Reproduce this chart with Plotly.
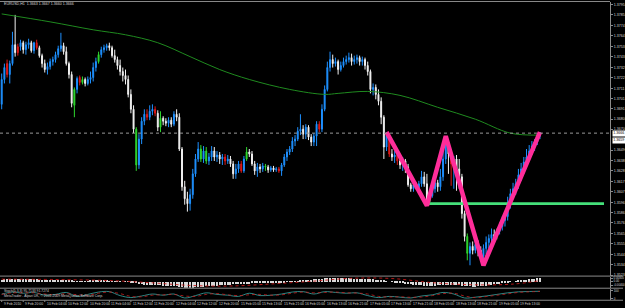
import plotly.graph_objects as go

# ---------------- data (EURUSD, H1) ----------------
symbol = "EURUSD,H1"
open_ = [1.3695,1.3720,1.3736,1.3725,1.3736,1.3755,1.3747,1.3753,1.3757,1.3750,
         1.3755,1.3757,1.3749,1.3757,1.3752,1.3744,1.3736,1.3730,1.3733,1.3738,
         1.3740,1.3745,1.3751,1.3754,1.3748,1.3736,1.3725,1.3694,1.3710,1.3722,
         1.3717,1.3720,1.3716,1.3720,1.3722,1.3732,1.3738,1.3745,1.3750,1.3752,
         1.3754,1.3752,1.3744,1.3740,1.3734,1.3728,1.3724,1.3720,1.3705,1.3690,
         1.3670,1.3634,1.3660,1.3678,1.3685,1.3682,1.3688,1.3690,1.3686,1.3672,
         1.3681,1.3678,1.3676,1.3679,1.3675,1.3685,1.3682,1.3650,1.3612,1.3600,
         1.3595,1.3604,1.3625,1.3640,1.3650,1.3640,1.3648,1.3638,1.3642,1.3648,
         1.3642,1.3644,1.3640,1.3642,1.3638,1.3640,1.3635,1.3625,1.3630,1.3635,
         1.3628,1.3640,1.3647,1.3645,1.3635,1.3628,1.3632,1.3630,1.3633,1.3632,
         1.3629,1.3631,1.3629,1.3630,1.3628,1.3634,1.3642,1.3647,1.3650,1.3658,
         1.3660,1.3668,1.3670,1.3665,1.3672,1.3662,1.3657,1.3663,1.3675,1.3670,
         1.3690,1.3710,1.3732,1.3740,1.3736,1.3738,1.3730,1.3734,1.3738,1.3740,
         1.3742,1.3738,1.3740,1.3742,1.3738,1.3740,1.3734,1.3728,1.3710,1.3712,
         1.3705,1.3698,1.3682,1.3652,1.3664,1.3645,1.3642,1.3644,1.3638,1.3634,
         1.3638,1.3632,1.3614,1.3610,1.3614,1.3611,1.3615,1.3622,1.3615,1.3597,
         1.3603,1.3610,1.3616,1.3612,1.3622,1.3640,1.3655,1.3645,1.3635,1.3640,
         1.3630,1.3622,1.3585,1.3562,1.3545,1.3552,1.3548,1.3554,1.3548,1.3542,
         1.3550,1.3556,1.3560,1.3564,1.3562,1.3567,1.3572,1.3578,1.3582,1.3595,
         1.3605,1.3610,1.3615,1.3624,1.3630,1.3637,1.3642,1.3648,1.3653,1.3657,
         1.3663]
close_ = [1.3720,1.3732,1.3725,1.3736,1.3755,1.3747,1.3753,1.3757,1.3750,1.3755,
          1.3757,1.3749,1.3757,1.3752,1.3744,1.3736,1.3730,1.3733,1.3738,1.3740,
          1.3745,1.3751,1.3754,1.3748,1.3736,1.3725,1.3696,1.3710,1.3721,1.3717,
          1.3720,1.3716,1.3720,1.3722,1.3732,1.3738,1.3745,1.3750,1.3752,1.3754,
          1.3752,1.3744,1.3740,1.3734,1.3728,1.3724,1.3720,1.3705,1.3690,1.3670,
          1.3634,1.3660,1.3678,1.3685,1.3682,1.3688,1.3690,1.3686,1.3672,1.3681,
          1.3678,1.3676,1.3679,1.3675,1.3685,1.3682,1.3650,1.3612,1.3600,1.3595,
          1.3604,1.3625,1.3640,1.3650,1.3640,1.3648,1.3638,1.3642,1.3648,1.3642,
          1.3644,1.3640,1.3642,1.3638,1.3640,1.3635,1.3625,1.3630,1.3635,1.3628,
          1.3640,1.3647,1.3645,1.3635,1.3628,1.3632,1.3630,1.3633,1.3632,1.3629,
          1.3631,1.3629,1.3630,1.3628,1.3634,1.3642,1.3647,1.3650,1.3658,1.3660,
          1.3668,1.3670,1.3665,1.3672,1.3662,1.3657,1.3663,1.3675,1.3670,1.3690,
          1.3710,1.3732,1.3740,1.3736,1.3738,1.3730,1.3734,1.3738,1.3740,1.3742,
          1.3738,1.3740,1.3742,1.3738,1.3740,1.3734,1.3728,1.3710,1.3712,1.3705,
          1.3698,1.3682,1.3652,1.3664,1.3645,1.3642,1.3644,1.3638,1.3634,1.3638,
          1.3632,1.3614,1.3610,1.3614,1.3611,1.3615,1.3622,1.3615,1.3597,1.3603,
          1.3610,1.3616,1.3612,1.3622,1.3640,1.3655,1.3645,1.3635,1.3640,1.3630,
          1.3622,1.3585,1.3562,1.3545,1.3552,1.3548,1.3554,1.3548,1.3542,1.3550,
          1.3556,1.3560,1.3564,1.3562,1.3567,1.3572,1.3578,1.3582,1.3595,1.3605,
          1.3610,1.3615,1.3624,1.3630,1.3637,1.3642,1.3648,1.3653,1.3657,1.3663,
          1.3666]
high_ = [1.3726,1.3736,1.3740,1.3739,1.3768,1.3785,1.3756,1.3760,1.3759,1.3758,
         1.3761,1.3759,1.3758,1.3760,1.3754,1.3746,1.3740,1.3737,1.3741,1.3743,
         1.3748,1.3754,1.3767,1.3757,1.3753,1.3738,1.3728,1.3712,1.3723,1.3724,
         1.3723,1.3722,1.3723,1.3728,1.3737,1.3742,1.3748,1.3753,1.3755,1.3756,
         1.3757,1.3754,1.3750,1.3743,1.3740,1.3732,1.3730,1.3724,1.3710,1.3694,
         1.3672,1.3665,1.3682,1.3690,1.3690,1.3694,1.3695,1.3693,1.3689,1.3688,
         1.3683,1.3681,1.3682,1.3682,1.3688,1.3690,1.3686,1.3652,1.3618,1.3607,
         1.3610,1.3630,1.3645,1.3657,1.3654,1.3653,1.3652,1.3646,1.3653,1.3652,
         1.3648,1.3647,1.3645,1.3645,1.3644,1.3643,1.3638,1.3635,1.3638,1.3638,
         1.3643,1.3652,1.3650,1.3648,1.3638,1.3636,1.3635,1.3636,1.3635,1.3634,
         1.3633,1.3633,1.3632,1.3632,1.3636,1.3645,1.3650,1.3653,1.3662,1.3664,
         1.3672,1.3685,1.3674,1.3675,1.3674,1.3665,1.3666,1.3678,1.3678,1.3695,
         1.3714,1.3738,1.3748,1.3745,1.3742,1.3740,1.3738,1.3742,1.3744,1.3747,
         1.3746,1.3744,1.3745,1.3744,1.3743,1.3742,1.3738,1.3730,1.3716,1.3715,
         1.3710,1.3702,1.3684,1.3667,1.3666,1.3650,1.3648,1.3646,1.3642,1.3642,
         1.3640,1.3635,1.3616,1.3617,1.3617,1.3618,1.3628,1.3627,1.3625,1.3605,
         1.3613,1.3620,1.3619,1.3630,1.3648,1.3663,1.3660,1.3650,1.3643,1.3644,
         1.3640,1.3625,1.3588,1.3565,1.3556,1.3557,1.3557,1.3558,1.3552,1.3554,
         1.3562,1.3564,1.3570,1.3569,1.3570,1.3576,1.3582,1.3586,1.3602,1.3610,
         1.3616,1.3620,1.3630,1.3636,1.3642,1.3650,1.3654,1.3658,1.3660,1.3665,
         1.3667]
low_ = [1.3690,1.3716,1.3722,1.3716,1.3734,1.3743,1.3744,1.3749,1.3746,1.3745,
        1.3751,1.3747,1.3746,1.3750,1.3742,1.3732,1.3727,1.3725,1.3730,1.3734,
        1.3737,1.3742,1.3748,1.3745,1.3734,1.3721,1.3692,1.3682,1.3706,1.3714,
        1.3715,1.3713,1.3714,1.3716,1.3718,1.3728,1.3736,1.3742,1.3747,1.3749,
        1.3749,1.3742,1.3737,1.3730,1.3724,1.3718,1.3715,1.3702,1.3686,1.3666,
        1.3628,1.3630,1.3655,1.3674,1.3679,1.3679,1.3684,1.3683,1.3668,1.3667,
        1.3674,1.3673,1.3672,1.3672,1.3673,1.3678,1.3648,1.3608,1.3594,1.3587,
        1.3588,1.3600,1.3622,1.3637,1.3637,1.3636,1.3635,1.3634,1.3638,1.3638,
        1.3637,1.3635,1.3634,1.3634,1.3635,1.3632,1.3620,1.3620,1.3626,1.3626,
        1.3626,1.3638,1.3642,1.3633,1.3624,1.3622,1.3626,1.3627,1.3628,1.3626,
        1.3627,1.3627,1.3627,1.3626,1.3623,1.3632,1.3638,1.3644,1.3647,1.3653,
        1.3658,1.3664,1.3660,1.3660,1.3659,1.3653,1.3653,1.3653,1.3667,1.3667,
        1.3688,1.3708,1.3728,1.3732,1.3733,1.3725,1.3728,1.3732,1.3735,1.3737,
        1.3734,1.3735,1.3736,1.3734,1.3734,1.3730,1.3724,1.3706,1.3704,1.3700,
        1.3694,1.3675,1.3640,1.3648,1.3642,1.3638,1.3636,1.3634,1.3630,1.3628,
        1.3626,1.3612,1.3607,1.3607,1.3609,1.3609,1.3612,1.3612,1.3593,1.3594,
        1.3601,1.3606,1.3607,1.3608,1.3618,1.3635,1.3625,1.3613,1.3610,1.3608,
        1.3610,1.3580,1.3557,1.3538,1.3533,1.3544,1.3545,1.3542,1.3537,1.3533,
        1.3544,1.3550,1.3556,1.3558,1.3559,1.3564,1.3568,1.3572,1.3578,1.3590,
        1.3600,1.3604,1.3610,1.3618,1.3625,1.3633,1.3638,1.3644,1.3648,1.3654,
        1.3660]
green_marks = [27, 30, 36, 50, 59, 74, 76, 91, 98, 159, 173, 184]
red_marks = [2, 6, 13, 29, 54, 57, 83, 89, 103, 118, 144, 147, 154, 167]

ma_bars = [0, 18, 34, 46, 58, 70, 81, 92, 107, 120, 125, 136, 148, 162, 176, 189, 200]
ma_values = [1.3786, 1.3778, 1.3770, 1.3765, 1.3757, 1.3743, 1.3730, 1.3720, 1.3710,
             1.3705, 1.3706, 1.3708, 1.3704, 1.3692, 1.3680, 1.3666, 1.3664]

zigzag_bars = [143, 158, 165, 179, 200]
zigzag_prices = [1.3667, 1.3593, 1.3663, 1.3533, 1.3667]
support_bars = [158, 223.8]
support_price = 1.3595
alert_price = 1.3659

macd_hist = [0.0020,0.0022,0.0023,0.0025,0.0026,0.0026,0.0025,0.0025,0.0024,0.0024,
             0.0023,0.0023,0.0022,0.0021,0.0020,0.0019,0.0018,0.0017,0.0015,
             0.0013,0.0012,0.0011,0.0010,0.0010,0.0009,0.0008,0.0006,0.0005,0.0005,
             0.0004,0.0004,0.0005,0.0005,0.0006,0.0006,0.0006,0.0007,0.0007,0.0006,
             0.0006,0.0005,0.0004,0.0003,0.0002,0.0001,0.0000,-0.0002,-0.0004,-0.0007,
             -0.0010,-0.0015,-0.0022,-0.0028,-0.0032,-0.0035,-0.0036,-0.0037,-0.0037,-0.0038,
             -0.0038,-0.0039,-0.0040,-0.0041,-0.0042,-0.0044,-0.0048,-0.0052,-0.0056,-0.0059,
             -0.0060,-0.0060,-0.0059,-0.0057,-0.0055,
             -0.0052,-0.0050,-0.0048,-0.0046,-0.0044,-0.0042,-0.0040,-0.0038,-0.0036,-0.0034,
             -0.0032,-0.0030,-0.0029,-0.0028,-0.0026,-0.0024,-0.0022,-0.0021,-0.0020,-0.0019,
             -0.0018,-0.0017,-0.0016,-0.0015,-0.0014,-0.0013,-0.0012,-0.0011,-0.0010,-0.0009,
             -0.0007,-0.0005,-0.0003,-0.0001,0.0001,0.0003,0.0005,
             0.0008,0.0011,0.0014,0.0017,0.0020,0.0023,0.0026,0.0028,0.0030,0.0031,
             0.0032,0.0033,0.0034,0.0034,0.0034,0.0033,0.0033,0.0032,0.0032,0.0031,
             0.0030,0.0029,0.0028,0.0027,0.0026,0.0025,0.0023,0.0021,0.0018,0.0015,
             0.0012,0.0008,0.0004,0.0000,-0.0004,-0.0008,-0.0012,-0.0015,-0.0018,-0.0021,
             -0.0024,-0.0027,-0.0030,-0.0033,-0.0035,-0.0037,-0.0039,-0.0040,-0.0040,-0.0040,
             -0.0039,-0.0038,-0.0036,-0.0034,-0.0032,-0.0031,-0.0031,-0.0032,-0.0034,-0.0037,
             -0.0040,-0.0043,-0.0046,-0.0048,-0.0049,-0.0049,-0.0048,-0.0046,-0.0043,-0.0040,
             -0.0036,-0.0032,-0.0028,-0.0024,-0.0020,-0.0016,-0.0012,-0.0008,-0.0004,0.0000,
             0.0004,0.0008,
             0.0012,0.0016,0.0020,0.0023,0.0026,0.0029,0.0031,0.0033]
macd_signal_bars = [0, 20, 40, 55, 70, 85, 100, 115, 130, 145, 160, 175, 190, 200]
macd_signal = [0.0020, 0.0016, 0.0006, -0.0015, -0.0042, -0.0048, -0.0028, -0.0002,
               0.0028, 0.0026, -0.0015, -0.0036, -0.0029, 0.0005]
macd_ticks = [0.0030, 0.0, -0.0040]
macd_tick_text = ["0.00300", "0.00", "-0.00400"]

stoch_bars = list(range(0, 201, 4))
stoch_k = [60,85,70,80,45,55,80,30,55,85,90,40,15,35,60,45,60,10,40,75,55,45,30,70,40,
           45,60,85,90,60,90,80,70,75,40,15,30,20,10,35,50,80,60,10,20,35,55,75,88,92,95]
stoch_d = [55,75,75,75,60,50,65,50,45,70,85,65,30,25,45,50,55,35,30,55,65,50,40,50,55,
           45,50,70,85,75,80,85,75,72,60,30,22,25,18,22,40,65,70,35,15,28,45,62,80,88,92]
stoch_label = "Stoch(5,3,3) 95.7133 91.7274"
copyright_text = "MetaTrader - Alpari UK, © 2001-2009 MetaQuotes Software Corp."

time_ticks = [0, 8, 16, 24, 32, 40, 48, 56, 64, 72, 80, 88, 96, 104, 112, 120, 128,
              136, 144, 152, 160, 168, 176, 184, 192]
time_labels = ["9 Feb 2010", "9 Feb 20:00", "10 Feb 04:00", "10 Feb 12:00", "10 Feb 20:00",
               "11 Feb 04:00", "11 Feb 12:00", "11 Feb 20:00", "12 Feb 04:00", "12 Feb 12:00",
               "12 Feb 20:00", "15 Feb 05:00", "15 Feb 13:00", "15 Feb 21:00", "16 Feb 05:00",
               "16 Feb 13:00", "16 Feb 21:00", "17 Feb 05:00", "17 Feb 13:00", "17 Feb 21:00",
               "18 Feb 05:00", "18 Feb 13:00", "18 Feb 21:00", "19 Feb 05:00", "19 Feb 13:00"]
price_ticks = [1.3795, 1.3785, 1.3774, 1.3764, 1.3753, 1.3743, 1.3732, 1.3722, 1.3711,
               1.3701, 1.3691, 1.3680, 1.3670, 1.3649, 1.3638, 1.3628, 1.3617, 1.3607,
               1.3596, 1.3586, 1.3576, 1.3565, 1.3555, 1.3544, 1.3534, 1.3523]

# ---------------- layout helpers ----------------
W, H = 625, 308
def py(px):
    return 1 - px / H
XR = 612 / W
FONT = "Liberation Sans, Arial, sans-serif"
GRAY = "#8a8a8a"

fig = go.Figure()

# candles split by colour class
groups = {"blue": [], "white": [], "green": [], "red": []}
for i in range(len(close_)):
    if i in green_marks:
        groups["green"].append(i)
    elif i in red_marks:
        groups["red"].append(i)
    elif close_[i] >= open_[i]:
        groups["blue"].append(i)
    else:
        groups["white"].append(i)
gcolors = {"blue": "#1e90ff", "white": "#f2f2f2", "green": "#2fd82f", "red": "#e01818"}
for key in ["blue", "white", "green", "red"]:
    idx = groups[key]
    c = gcolors[key]
    fig.add_trace(go.Candlestick(
        x=idx, open=[open_[i] for i in idx], high=[high_[i] for i in idx],
        low=[low_[i] for i in idx], close=[close_[i] for i in idx],
        increasing=dict(line=dict(color=c, width=1), fillcolor=c),
        decreasing=dict(line=dict(color=c, width=1), fillcolor=c),
        xaxis="x", yaxis="y", showlegend=False, hoverinfo="skip"))

# moving average
fig.add_trace(go.Scatter(x=ma_bars, y=ma_values, mode="lines",
                         line=dict(color="#1f8a1f", width=1, shape="spline", smoothing=1.0),
                         xaxis="x", yaxis="y", hoverinfo="skip"))
# support line
fig.add_trace(go.Scatter(x=support_bars, y=[support_price] * len(support_bars), mode="lines",
                         line=dict(color="#45e07a", width=2.6),
                         xaxis="x", yaxis="y", hoverinfo="skip"))
# zigzag pattern
fig.add_trace(go.Scatter(x=zigzag_bars, y=zigzag_prices, mode="lines",
                         line=dict(color="#ff2d9a", width=4.5),
                         xaxis="x", yaxis="y", hoverinfo="skip"))

# MACD panel
fig.add_trace(go.Bar(x=list(range(len(macd_hist))), y=macd_hist, width=0.45,
                     marker=dict(color="#d8d8d8", line=dict(width=0)),
                     xaxis="x2", yaxis="y2", hoverinfo="skip"))
fig.add_trace(go.Scatter(x=macd_signal_bars, y=macd_signal, mode="lines",
                         line=dict(color="#c81818", width=0.9, dash="dot", shape="spline"),
                         xaxis="x2", yaxis="y2", hoverinfo="skip"))

# Stochastic panel
fig.add_trace(go.Scatter(x=stoch_bars, y=stoch_k, mode="lines",
                         line=dict(color="#3aa8a4", width=0.8, shape="spline"),
                         xaxis="x3", yaxis="y3", hoverinfo="skip"))
fig.add_trace(go.Scatter(x=stoch_bars, y=stoch_d, mode="lines",
                         line=dict(color="#c82020", width=0.8, dash="dot", shape="spline"),
                         xaxis="x3", yaxis="y3", hoverinfo="skip"))

xcommon = dict(domain=[0, XR], showgrid=False, zeroline=False, showticklabels=False,
               fixedrange=True, showline=False)
ycommon = dict(side="right", showgrid=False, zeroline=False, ticks="outside", ticklen=2,
               tickcolor=GRAY, showline=True, linecolor=GRAY, linewidth=1, fixedrange=True)

fig.update_layout(
    width=W, height=H, margin=dict(l=0, r=0, t=0, b=0),
    paper_bgcolor="black", plot_bgcolor="black", showlegend=False,
    hovermode=False, boxmode="overlay", boxgap=0.5, bargap=0,
    font=dict(family=FONT, color="#d8d8d8", size=4),
    xaxis=dict(**xcommon, range=[-0.63, 226.04], anchor="y", rangeslider=dict(visible=False)),
    xaxis2=dict(**xcommon, matches="x", anchor="y2"),
    xaxis3=dict(**xcommon, matches="x", anchor="y3"),
    yaxis=dict(**ycommon, domain=[py(277.7), py(2)], range=[1.35223, 1.3798], anchor="x",
               tickvals=price_ticks, ticktext=[f"{v:.4f}" for v in price_ticks],
               tickfont=dict(size=3.6, color="#d8d8d8", family=FONT)),
    yaxis2=dict(**ycommon, domain=[py(289.6), py(278.4)], range=[-0.0065, 0.0045], anchor="x2",
                tickvals=macd_ticks, ticktext=macd_tick_text,
                tickfont=dict(size=2.8, color="#d8d8d8", family=FONT)),
    yaxis3=dict(**ycommon, domain=[py(302), py(290.6)], range=[-16, 127], anchor="x3",
                tickvals=[100, 0], ticktext=["100", "0"],
                tickfont=dict(size=3.0, color="#d8d8d8", family=FONT)),
)

shapes = []
# frame / separators
shapes.append(dict(type="line", xref="paper", yref="paper", x0=0, x1=XR, y0=py(1.5), y1=py(1.5),
                   line=dict(color=GRAY, width=1)))
for ypx in [277.9, 290.1, 302.2]:
    shapes.append(dict(type="line", xref="paper", yref="paper", x0=0, x1=1, y0=py(ypx), y1=py(ypx),
                       line=dict(color=GRAY, width=1)))
# current price dotted line
shapes.append(dict(type="line", xref="paper", yref="y", x0=0, x1=XR, y0=close_[-1], y1=close_[-1],
                   line=dict(color="#9a9a9a", width=1, dash="dot")))
# time axis tick marks
for t in time_ticks:
    shapes.append(dict(type="line", xref="x3", yref="paper", x0=t, x1=t, y0=py(302.2), y1=py(304),
                       line=dict(color=GRAY, width=1)))
fig.update_layout(shapes=shapes)

ann = []
ann.append(dict(text=f"{symbol}  {open_[-1]:.4f} {high_[-1]:.4f} {low_[-1]:.4f} {close_[-1]:.4f}",
                xref="paper", yref="paper", x=2 / W, y=py(4.5), xanchor="left", yanchor="middle",
                showarrow=False, font=dict(size=3.6, color="#d8d8d8", family=FONT)))
for val in [close_[-1], alert_price]:
    ann.append(dict(text=f"{val:.4f}", xref="paper", yref="y", x=613.5 / W, y=val,
                    xanchor="left", yanchor="middle", showarrow=False, bgcolor="#ffffff",
                    borderpad=0.3, font=dict(size=3.6, color="#000000", family=FONT)))
ann.append(dict(text=stoch_label, xref="paper", yref="paper", x=2 / W, y=py(293.4),
                xanchor="left", yanchor="middle", showarrow=False,
                font=dict(size=3.4, color="#d0d0d0", family=FONT)))
ann.append(dict(text=copyright_text, xref="paper", yref="paper", x=2 / W, y=py(298.4),
                xanchor="left", yanchor="middle", showarrow=False,
                font=dict(size=3.4, color="#d0d0d0", family=FONT)))
for t, lab in zip(time_ticks, time_labels):
    ann.append(dict(text=lab, xref="x3", yref="paper", x=t, y=py(305.6),
                    xanchor="left", yanchor="middle", showarrow=False,
                    font=dict(size=3.4, color="#d0d0d0", family=FONT)))
fig.update_layout(annotations=ann)

fig.write_html("out.html")
